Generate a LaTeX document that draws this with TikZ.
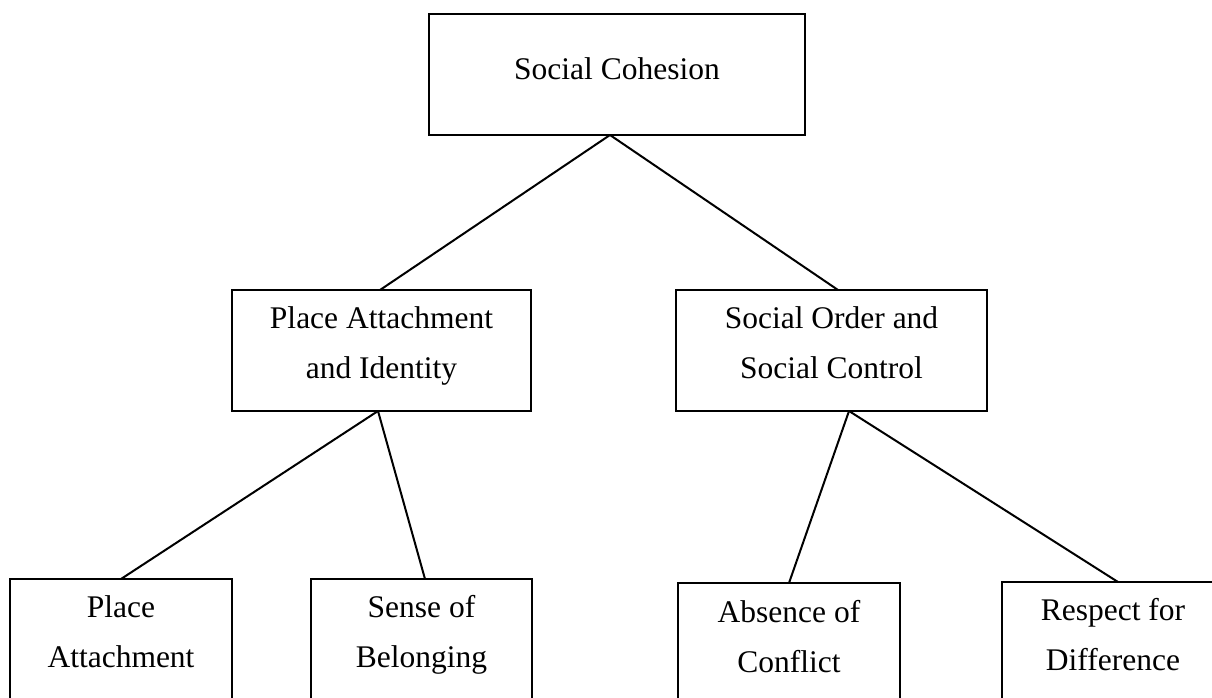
\documentclass[tikz,border=0pt]{standalone}
\usepackage{fontspec}
\setmainfont{Liberation Serif}
\begin{document}
\begin{tikzpicture}[x=1pt,y=-1pt,
  box/.style={draw, line width=1.8pt, inner sep=0pt, outer sep=0pt, anchor=north west},
  txt/.style={anchor=base, inner sep=0pt, font=\fontsize{31.5}{50}\selectfont},
  link/.style={line width=2pt}]
\useasboundingbox (0,0) rectangle (1212,698);
% boxes
\node[box, minimum width=376, minimum height=121] (sc) at (429,14) {};
\node[box, minimum width=299, minimum height=121] (pai) at (232,290) {};
\node[box, minimum width=311, minimum height=121] (soc) at (676,290) {};
\node[box, minimum width=222, minimum height=130] (pa) at (10,579) {};
\node[box, minimum width=221, minimum height=130] (sb) at (311,579) {};
\node[box, minimum width=222, minimum height=130] (ac) at (678,583) {};
\node[box, minimum width=222, minimum height=130] (rd) at (1002,582) {};
% texts
\node[txt] (sct) at (617,80) {Social Cohesion};
\node[txt] (pait1) at (381.5,328) {Place Attachment};
\node[txt] (pait2) at (381.5,378) {and Identity};
\node[txt] (soct1) at (831.5,328) {Social Order and};
\node[txt] (soct2) at (831.5,378) {Social Control};
\node[txt] (pat1) at (121,617) {Place};
\node[txt] (pat2) at (121,667) {Attachment};
\node[txt] (sbt1) at (421.5,617) {Sense of};
\node[txt] (sbt2) at (421.5,667) {Belonging};
\node[txt] (act1) at (789,622) {Absence of};
\node[txt] (act2) at (789,672) {Conflict};
\node[txt] (rdt1) at (1113,620) {Respect for};
\node[txt] (rdt2) at (1113,670) {Difference};
% connectors
\draw[link] ([xshift=-7pt]sc.south) -- ([xshift=-1.5pt]pai.north);
\draw[link] ([xshift=-7pt]sc.south) -- ([xshift=6.5pt]soc.north);
\draw[link] ([xshift=-3.5pt]pai.south) -- (pa.north);
\draw[link] ([xshift=-3.5pt]pai.south) -- ([xshift=3.5pt]sb.north);
\draw[link] ([xshift=17.5pt]soc.south) -- (ac.north);
\draw[link] ([xshift=17.5pt]soc.south) -- ([xshift=5pt]rd.north);
\end{tikzpicture}
\end{document}
